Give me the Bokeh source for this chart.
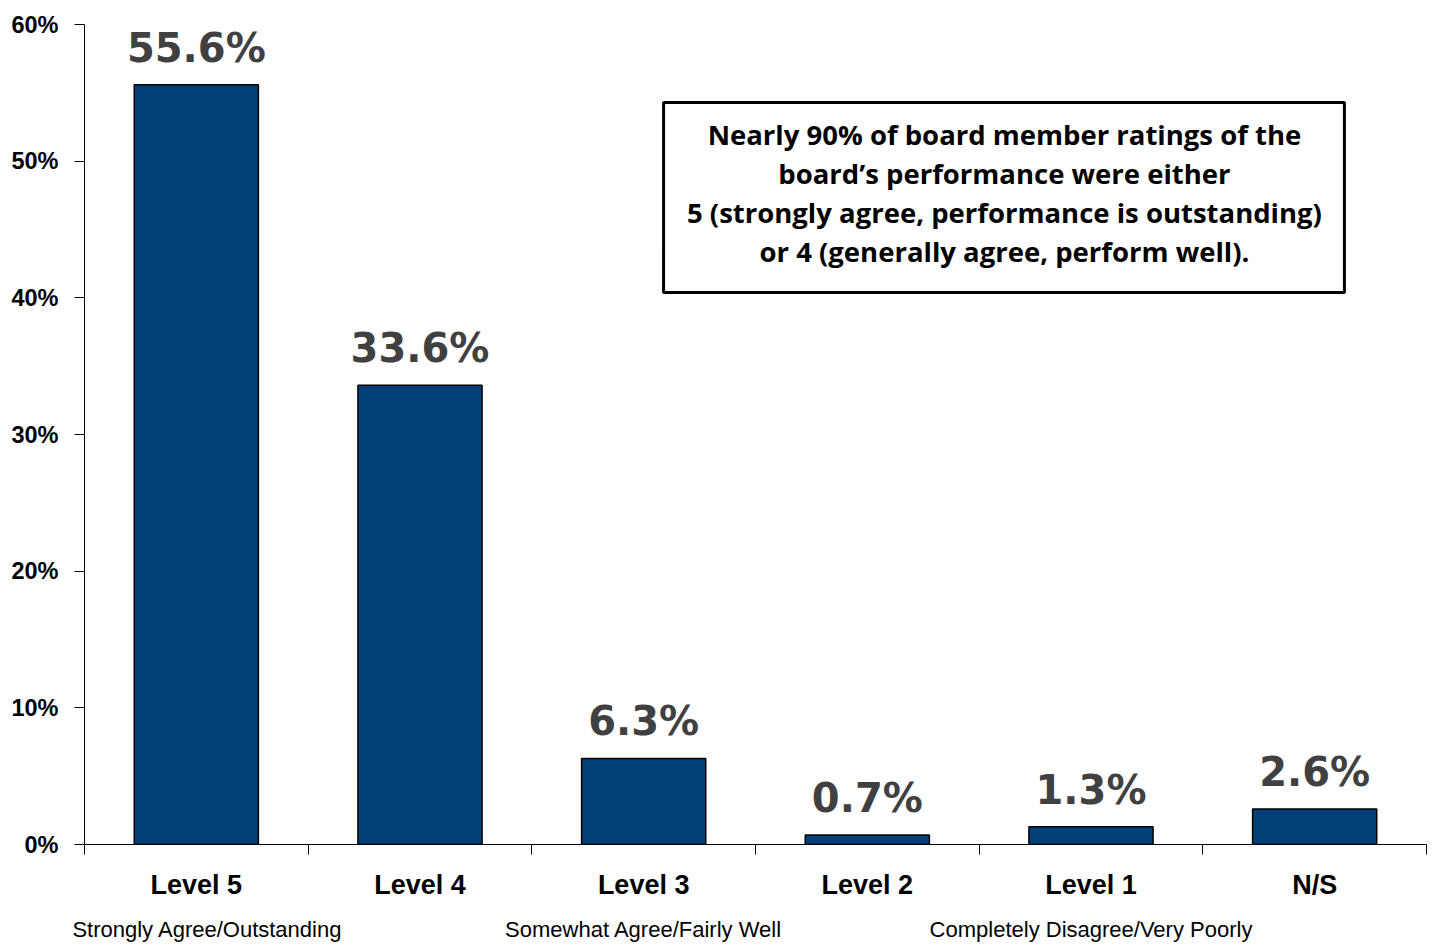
from bokeh.plotting import figure
from bokeh.models import (FixedTicker, LinearAxis, Range1d, BoxAnnotation, ColumnDataSource,
                          PrintfTickFormatter)
from bokeh.core.properties import value
from bokeh.embed import file_html
from bokeh.resources import INLINE

categories = ["Level 5", "Level 4", "Level 3", "Level 2", "Level 1", "N/S"]
values = [55.6, 33.6, 6.3, 0.7, 1.3, 2.6]
value_labels = ["55.6%", "33.6%", "6.3%", "0.7%", "1.3%", "2.6%"]
sub_labels = {0: "Strongly Agree/Outstanding", 2: "Somewhat Agree/Fairly Well", 4: "Completely Disagree/Very Poorly"}
y_ticks = [0, 10, 20, 30, 40, 50, 60]
note_lines = [
    "Nearly 90% of board member ratings of the",
    "board\u2019s performance were either",
    "5 (strongly agree, performance is outstanding)",
    "or 4 (generally agree, perform well).",
]

centers = [i + 0.5 for i in range(len(categories))]
src = ColumnDataSource(dict(x=centers, top=values, lab=value_labels))

AXF = "Liberation Sans"

p = figure(width=1435, height=945, output_backend="svg", toolbar_location=None,
           x_range=Range1d(0, len(categories)), y_range=Range1d(0, 60),
           x_axis_location=None, min_border_left=84, min_border_right=9,
           min_border_top=24, min_border_bottom=101)
p.outline_line_color = None
p.xgrid.visible = False
p.ygrid.visible = False
p.background_fill_color = "white"
p.border_fill_color = "white"

# y axis
ya = p.yaxis[0]
ya.ticker = FixedTicker(ticks=y_ticks)
ya.formatter = PrintfTickFormatter(format="%d%%")
ya.major_tick_out = 10
ya.major_tick_in = 0
ya.minor_tick_out = 0
ya.minor_tick_in = 0
ya.axis_line_color = "black"
ya.major_tick_line_color = "black"
ya.major_label_text_font = AXF
ya.major_label_text_font_style = "bold"
ya.major_label_text_font_size = "23.5px"
ya.major_label_text_color = "black"
ya.major_label_standoff = 16

# x axis: categories
xa = LinearAxis(ticker=FixedTicker(ticks=centers, minor_ticks=list(range(len(categories) + 1))),
                major_label_overrides={c: n for c, n in zip(centers, categories)})
xa.major_tick_out = 0
xa.major_tick_in = 0
xa.minor_tick_out = 10
xa.minor_tick_in = 0
xa.axis_line_color = "black"
xa.minor_tick_line_color = "black"
xa.major_label_text_font = AXF
xa.major_label_text_font_style = "bold"
xa.major_label_text_font_size = "27px"
xa.major_label_text_color = "black"
xa.major_label_standoff = 15
p.add_layout(xa, "below")

# sub labels axis (first label sits slightly right of its bar in the original)
sub_shift = {0: 0.05, 2: 0.0, 4: 0.0}
sub_ticks = [centers[i] + sub_shift[i] for i in sub_labels]
xa2 = LinearAxis(ticker=FixedTicker(ticks=sub_ticks, minor_ticks=[]),
                 major_label_overrides={centers[i] + sub_shift[i]: t for i, t in sub_labels.items()})
xa2.axis_line_color = None
xa2.major_tick_line_color = None
xa2.minor_tick_line_color = None
xa2.major_tick_out = 0
xa2.major_tick_in = 0
xa2.major_label_text_font = AXF
xa2.major_label_text_font_size = "22px"
xa2.major_label_text_color = "black"
xa2.major_label_standoff = 14
p.add_layout(xa2, "below")

p.vbar(x="x", top="top", width=0.555, bottom=0, source=src,
       fill_color="#033F78", line_color="black", line_width=1.5)

p.text(x="x", y="top", text="lab", source=src, text_align="center", text_baseline="alphabetic",
       y_offset=-37, text_font=value("DejaVu Sans"), text_font_style="bold",
       text_font_size="40px", text_color="#404040")

# note box
box = BoxAnnotation(left=2.589, right=5.633, top=54.29, bottom=40.39,
                    fill_color="white", fill_alpha=1.0, line_color="black", line_alpha=1.0,
                    line_width=3)
p.add_layout(box)
note_y = [51.92, 49.07, 46.22, 43.37]
note = p.text(x=[4.113] * len(note_lines), y=note_y, text=note_lines, text_align="center",
              text_baseline="middle", text_font=value("Open Sans"), text_font_style="bold",
              text_font_size="27.5px", text_color="black")
note.level = "overlay"

open("out.html", "w").write(file_html(p, INLINE))
